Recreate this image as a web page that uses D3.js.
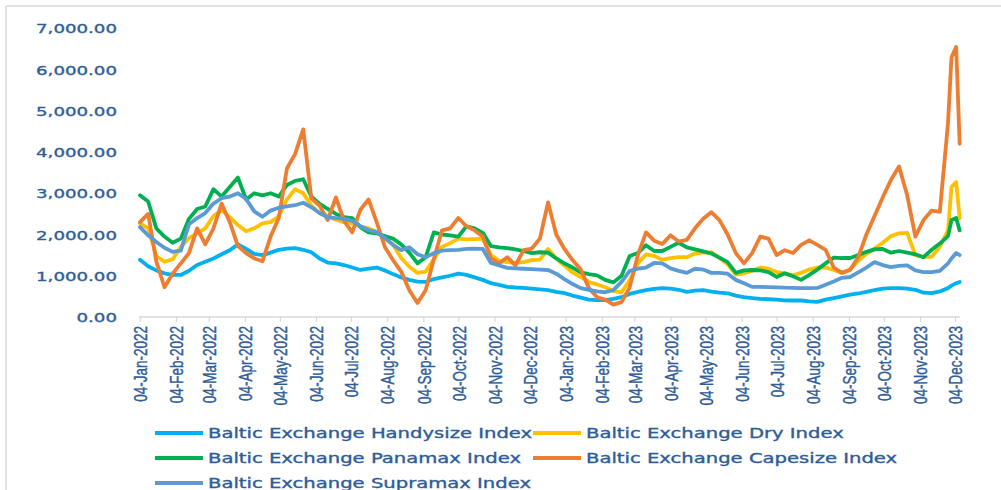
<!DOCTYPE html>
<html><head><meta charset="utf-8">
<script src="https://cdn.jsdelivr.net/npm/d3@7"></script>
<style>
html,body{margin:0;padding:0;background:#fff;}
svg{display:block;}
</style>
</head><body>
<svg id="chart" width="1001" height="490"></svg>
<script>
// ---------- DATA ----------
const dates = [
"2022-01-04","2022-01-11","2022-01-18","2022-01-25","2022-02-01","2022-02-08","2022-02-15","2022-02-22","2022-03-01","2022-03-08",
"2022-03-15","2022-03-22","2022-03-29","2022-04-05","2022-04-12","2022-04-19","2022-04-26","2022-05-03","2022-05-10","2022-05-17",
"2022-05-24","2022-05-31","2022-06-07","2022-06-14","2022-06-21","2022-06-28","2022-07-05","2022-07-12","2022-07-19","2022-07-26",
"2022-08-02","2022-08-09","2022-08-16","2022-08-23","2022-08-30","2022-09-06","2022-09-13","2022-09-20","2022-09-27","2022-10-04",
"2022-10-11","2022-10-18","2022-10-25","2022-11-01","2022-11-08","2022-11-15","2022-11-22","2022-11-29","2022-12-06","2022-12-13",
"2022-12-20","2022-12-27","2023-01-03","2023-01-10","2023-01-17","2023-01-24","2023-01-31","2023-02-07","2023-02-14","2023-02-21",
"2023-02-28","2023-03-07","2023-03-14","2023-03-21","2023-03-28","2023-04-04","2023-04-11","2023-04-18","2023-04-25","2023-05-02",
"2023-05-09","2023-05-16","2023-05-23","2023-05-30","2023-06-06","2023-06-13","2023-06-20","2023-06-27","2023-07-04","2023-07-11",
"2023-07-18","2023-07-25","2023-08-01","2023-08-08","2023-08-15","2023-08-22","2023-08-29","2023-09-05","2023-09-12","2023-09-19",
"2023-09-26","2023-10-03","2023-10-10","2023-10-17","2023-10-24","2023-10-31","2023-11-07","2023-11-14","2023-11-21","2023-11-28",
"2023-12-01","2023-12-05","2023-12-08"];

const handysize = [1390,1230,1130,1060,1020,1020,1120,1260,1340,1420, 1520,1620,1760,1650,1530,1500,1560,1630,1660,1670,
 1630,1570,1420,1320,1300,1260,1200,1140,1170,1200, 1130,1040,960,900,860,850,920,960,1000,1050,
 1020,960,900,820,780,730,715,705,690,670, 650,610,580,520,470,420,410,410,440,480,
 560,610,650,680,700,690,660,610,640,650, 615,590,575,520,480,460,440,430,420,405,
 400,400,380,365,420,460,500,540,570,610, 650,690,700,700,690,660,590,580,620,700,
 760,820,850];

const dry = [2270,2150,1480,1340,1400,1700,1910,2030,2150,2450, 2590,2420,2230,2080,2150,2270,2300,2440,2850,3100,
 3000,2700,2520,2450,2360,2300,2270,2200,2150,2060, 1900,1760,1430,1220,1070,1100,1400,1700,1790,1900,
 1880,1890,1900,1500,1360,1330,1310,1330,1380,1390, 1650,1420,1250,1080,970,850,790,720,630,600,
 890,1300,1520,1480,1390,1430,1450,1450,1540,1560, 1570,1430,1280,1030,1060,1120,1200,1170,1090,1060,
 1010,1070,1150,1200,1200,1140,1070,1150,1360,1530, 1660,1800,1960,2030,2040,1500,1460,1460,1700,2100,
 3150,3270,2400];

const panamax = [2950,2800,2150,1950,1800,1900,2380,2620,2680,3100, 2920,3150,3380,2850,3000,2950,3000,2920,3200,3300,
 3340,2920,2740,2620,2500,2420,2400,2180,2050,2030, 1960,1900,1760,1560,1300,1450,2050,2000,1980,1950,
 2200,2150,2040,1720,1690,1670,1640,1600,1550,1570, 1560,1420,1300,1200,1080,1040,1010,900,840,1000,
 1480,1550,1740,1600,1600,1700,1800,1690,1640,1590, 1540,1440,1330,1070,1130,1140,1130,1090,970,1060,
 990,900,1020,1150,1300,1440,1430,1430,1500,1580, 1640,1650,1560,1600,1560,1520,1450,1630,1780,1960,
 2350,2400,2100];

const capesize = [2300,2500,1350,720,1050,1300,1550,2150,1760,2150, 2750,2300,1720,1550,1420,1350,1950,2400,3600,3950,
 4550,2870,2700,2350,2900,2330,2050,2600,2850,2300, 1700,1380,1100,650,340,650,1400,2100,2150,2400,
 2200,2100,1950,1420,1300,1450,1250,1620,1660,1900, 2780,2000,1650,1380,1150,700,480,420,300,360,
 720,1500,2050,1850,1770,1980,1830,1870,2150,2380, 2540,2350,2000,1550,1300,1550,1950,1900,1500,1620,
 1550,1750,1860,1750,1630,1200,1070,1140,1450,2000, 2450,2900,3320,3650,2950,1950,2350,2580,2550,4700,
 6300,6550,4200];

const supramax = [2180,1980,1820,1680,1580,1610,2250,2400,2520,2750, 2880,2920,3000,2860,2560,2430,2580,2650,2680,2710,
 2770,2660,2520,2420,2400,2380,2330,2200,2110,2060, 1920,1750,1620,1690,1520,1450,1550,1610,1620,1630,
 1650,1660,1650,1310,1250,1190,1180,1170,1160,1150, 1140,1050,920,800,700,660,620,600,650,850,
 1120,1170,1200,1310,1300,1180,1120,1070,1170,1150, 1070,1070,1050,900,820,730,730,725,720,710,
 705,700,700,705,780,860,950,970,1080,1200, 1330,1260,1210,1240,1250,1130,1090,1090,1120,1300,
 1420,1550,1500];

const seriesNames = ["Baltic Exchange Handysize Index","Baltic Exchange Dry Index","Baltic Exchange Panamax Index",
  "Baltic Exchange Capesize Index","Baltic Exchange Supramax Index"];
const seriesColors = ["#00b0f0","#ffc000","#00b050","#ed7d31","#5b9bd5"];
const seriesValues = [handysize, dry, panamax, capesize, supramax];

const xTickDates = ["2022-01-04","2022-02-04","2022-03-04","2022-04-04","2022-05-04","2022-06-04","2022-07-04",
 "2022-08-04","2022-09-04","2022-10-04","2022-11-04","2022-12-04","2023-01-04","2023-02-04","2023-03-04",
 "2023-04-04","2023-05-04","2023-06-04","2023-07-04","2023-08-04","2023-09-04","2023-10-04","2023-11-04","2023-12-04"];
const yTicks = [0,1000,2000,3000,4000,5000,6000,7000];

// ---------- DRAW ----------
const parse = d3.timeParse("%Y-%m-%d");
const svg = d3.select("#chart");
const textColor = "#2e5c99";
const SX = 1.4; // horizontal text stretch as in reference

// outer frame
svg.append("line").attr("x1",6).attr("y1",6).attr("x2",1001).attr("y2",6).attr("stroke","#d9d9d9").attr("stroke-width",1.5);
svg.append("line").attr("x1",6).attr("y1",6).attr("x2",6).attr("y2",490).attr("stroke","#d9d9d9").attr("stroke-width",1.5);

const x = d3.scaleTime().domain([parse("2022-01-04"), parse("2023-12-04")]).range([140, 955]);
const y = d3.scaleLinear().domain([0, 7000]).range([317, 28.3]);

// y axis labels
const yAxis = svg.append("g").attr("transform","translate(117,0)")
  .call(d3.axisLeft(y).tickValues(yTicks).tickSize(0).tickPadding(0).tickFormat(d3.format(",.2f")));
yAxis.select(".domain").remove();
yAxis.selectAll("text")
  .attr("x",0).attr("dy","0.36em")
  .attr("transform",`scale(${SX},1)`)
  .attr("fill",textColor).attr("stroke",textColor).attr("stroke-width",0.35)
  .style("font-family","'DejaVu Sans', sans-serif").style("font-size","13px");

// x axis
const xAxis = svg.append("g").attr("transform","translate(0,317)")
  .call(d3.axisBottom(x).tickValues(xTickDates.map(parse)).tickSize(5).tickFormat(d3.timeFormat("%d-%b-%Y")));
xAxis.select(".domain").remove();
xAxis.append("line").attr("x1",139).attr("x2",960).attr("y1",0).attr("y2",0).attr("stroke","#d9d9d9").attr("stroke-width",1.5);
xAxis.selectAll(".tick line").attr("stroke","#d9d9d9").attr("stroke-width",1.2);
xAxis.selectAll(".tick text")
  .attr("x",0).attr("y",0).attr("dy","0.36em")
  .attr("text-anchor","end")
  .attr("transform",`translate(0,9) scale(${SX},1) rotate(-90)`)
  .attr("fill",textColor).attr("stroke",textColor).attr("stroke-width",0.3)
  .style("font-family","'Liberation Sans', Arial, sans-serif").style("font-size","13.5px");

// lines
const line = d3.line()
  .x((d,i) => x(parse(dates[i])))
  .y(d => y(d))
  .curve(d3.curveLinear);

seriesValues.forEach((vals, k) => {
  svg.append("path").datum(vals)
    .attr("d", line)
    .attr("fill","none")
    .attr("stroke", seriesColors[k])
    .attr("stroke-width", 3.8)
    .attr("stroke-linejoin","round")
    .attr("stroke-linecap","round");
});

// legend
const legendPos = [[155,433],[533,433],[155,458],[533,458],[155,483]];
seriesNames.forEach((name,k) => {
  const [lx, ly] = legendPos[k];
  const g = svg.append("g");
  g.append("line").attr("x1",lx).attr("x2",lx+48).attr("y1",ly).attr("y2",ly)
    .attr("stroke",seriesColors[k]).attr("stroke-width",3.8);
  g.append("text")
    .attr("transform",`translate(${lx+53},${ly}) scale(${SX},1)`)
    .attr("dy","0.36em")
    .attr("fill",textColor).attr("stroke",textColor).attr("stroke-width",0.35)
    .style("font-family","'DejaVu Sans', sans-serif").style("font-size","14px")
    .text(name);
});
</script>
</body></html>
